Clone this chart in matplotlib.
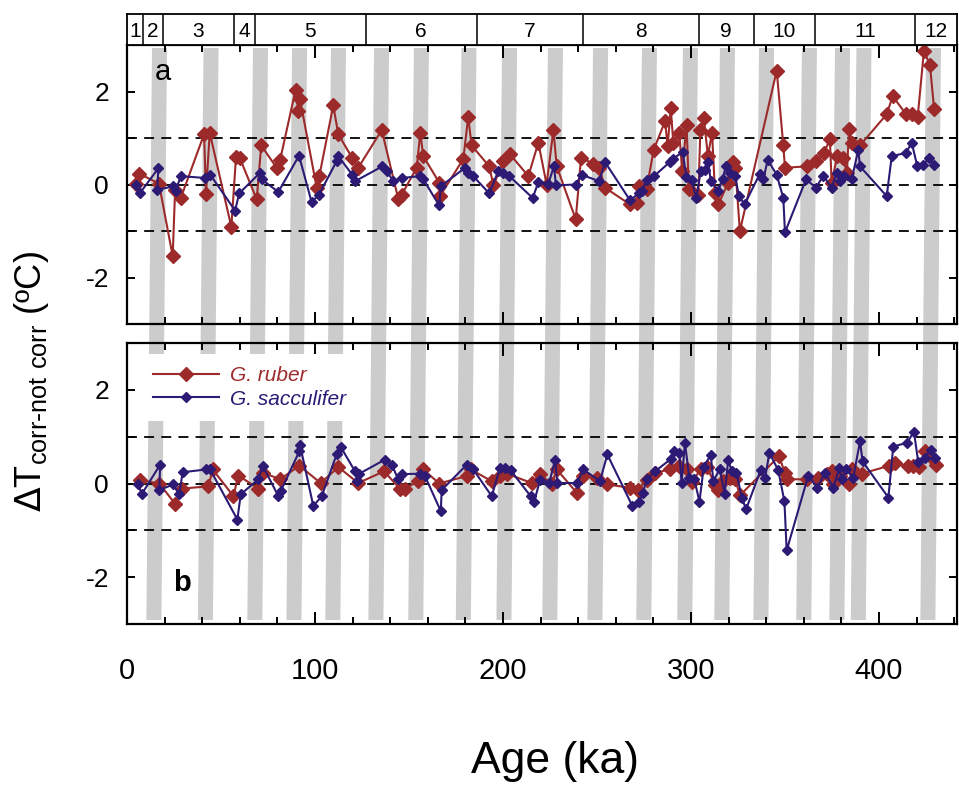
import matplotlib
matplotlib.use('Agg')
import matplotlib.pyplot as plt
from matplotlib.patches import Polygon

RED = '#9c2a2a'
BLUE = '#2c1a74'
BAR_GRAY = '#cccccc'

# glacial/interglacial shading bars (centre age at top of figure, ka)
bar_centers = [17.3, 44.7, 71.0, 91.8, 112.5, 135.4, 156.6, 181.9, 203.5, 227.9,
               251.9, 277.9, 299.7, 319.4, 340.2, 363.0, 380.6, 392.0, 429.0]

# marine isotope stage boundaries (ka) and labels
mis_bounds = [8.5, 19, 57, 68, 127, 186, 242.5, 304, 333.5, 366, 419]
mis_labels = ['1', '2', '3', '4', '5', '6', '7', '8', '9', '10', '11', '12']

# panel a: G. ruber
ruber_a_age = [5.0, 6.6, 17.0, 24.3, 25.6, 28.6, 41.0, 42.0, 44.0, 55.5, 58.0, 60.0,
               69.0, 71.4, 79.6, 81.4, 89.7, 91.1, 92.0, 100.9, 102.3, 109.7, 112.4,
               119.8, 123.0, 135.5, 144.3, 146.1, 154.1, 156.0, 157.6, 166.1, 166.5,
               178.9, 181.5, 183.3, 192.7, 194.9, 200.2, 203.7, 213.5, 218.8, 223.2,
               226.8, 228.6, 238.7, 241.5, 248.0, 251.2, 254.3, 267.6, 271.1, 272.5,
               276.4, 280.2, 286.2, 287.6, 289.2, 290.6, 293.8, 295.3, 297.7, 298.8,
               303.9, 305.0, 306.8, 309.0, 311.2, 312.8, 314.5, 319.8, 322.5, 323.6,
               326.0, 345.6, 349.1, 350.0, 361.5, 366.5, 370.7, 373.9, 374.8, 377.8,
               381.0, 382.8, 384.2, 385.5, 389.9, 404.1, 407.3, 414.4, 417.4, 420.6,
               423.9, 427.1, 429.3]
ruber_a_val = [0.02, 0.23, 0.02, -1.54, -0.11, -0.29, 1.08, -0.20, 1.11, -0.91, 0.60, 0.57,
               -0.32, 0.84, 0.36, 0.52, 2.04, 1.58, 1.84, -0.07, 0.18, 1.70, 1.08,
               0.57, 0.36, 1.17, -0.31, -0.22, 0.36, 1.11, 0.61, 0.04, -0.25,
               0.55, 1.45, 0.84, 0.39, -0.02, 0.50, 0.65, 0.18, 0.90, 0.00,
               1.17, 0.39, -0.75, 0.57, 0.45, 0.36, -0.07, -0.43, -0.39, -0.04,
               -0.09, 0.75, 1.36, 0.82, 1.65, 0.90, 1.10, 0.29, 1.28, -0.09,
               -0.22, 1.17, 1.43, 0.62, 1.11, -0.18, -0.43, 0.04, 0.49, 0.36,
               -1.00, 2.45, 0.84, 0.36, 0.39, 0.50, 0.68, 0.97, 0.04, 0.61,
               0.57, 0.25, 1.20, 0.90, 0.84, 1.51, 1.90, 1.51, 1.51, 1.46,
               2.87, 2.58, 1.63]

# panel a: G. sacculifer
sacc_a_age = [5.0, 6.8, 16.7, 16.0, 24.3, 25.8, 28.6, 41.6, 44.3, 57.5, 59.7, 70.7,
              71.6, 80.5, 91.5, 98.2, 102.1, 111.5, 112.4, 119.8, 121.3, 135.8, 138.1,
              141.7, 146.1, 155.9, 157.6, 166.1, 166.9, 179.8, 181.5, 183.9, 192.7,
              197.5, 200.2, 203.4, 215.8, 218.8, 224.1, 227.1, 228.2, 238.7, 241.8,
              251.2, 254.3, 267.6, 272.5, 274.0, 276.4, 280.3, 288.7, 290.4, 295.6,
              297.5, 300.4, 302.8, 305.2, 307.4, 309.2, 310.5, 314.5, 316.8, 318.6,
              321.0, 323.4, 325.5, 328.5, 336.5, 338.5, 340.8, 345.6, 349.1, 350.0,
              361.2, 366.5, 370.4, 374.8, 377.5, 379.3, 381.4, 385.5, 389.0, 389.9,
              404.1, 406.8, 414.4, 417.4, 420.4, 423.6, 426.8, 429.3]
sacc_a_val = [-0.02, -0.19, 0.35, -0.12, -0.04, -0.14, 0.18, 0.14, 0.21, -0.56, -0.19, 0.25,
              0.11, -0.16, 0.62, -0.38, -0.22, 0.50, 0.61, 0.21, 0.07, 0.39, 0.29,
              0.07, 0.14, 0.18, 0.11, -0.45, -0.04, 0.36, 0.25, 0.19, -0.19,
              0.29, 0.25, 0.18, -0.29, 0.05, 0.02, 0.39, -0.02, 0.00, 0.21,
              0.07, 0.48, -0.34, -0.18, -0.14, 0.09, 0.18, 0.48, 0.55, 0.70,
              0.16, 0.09, -0.30, 0.29, 0.32, 0.49, 0.07, -0.14, 0.12, 0.39,
              0.25, 0.18, -0.24, -0.43, 0.22, 0.11, 0.53, 0.21, -0.29, -1.03,
              0.11, -0.07, 0.19, -0.07, 0.25, 0.07, 0.19, 0.11, 0.75, 0.39,
              -0.25, 0.61, 0.68, 0.90, 0.39, 0.43, 0.57, 0.43]

# panel b: G. ruber
ruber_b_age = [7.0, 17.2, 25.5, 29.1, 43.3, 45.6, 56.6, 59.2, 69.9, 72.5, 81.4, 91.7,
               103.0, 112.4, 123.0, 136.7, 145.2, 147.9, 154.9, 157.3, 166.1, 180.7,
               182.8, 194.0, 198.4, 202.0, 215.3, 219.7, 225.9, 228.6, 239.5, 242.4,
               249.8, 255.2, 267.6, 272.0, 276.4, 280.9, 288.8, 293.5, 298.0, 300.4,
               305.2, 308.4, 313.0, 314.5, 317.2, 320.7, 323.4, 326.1, 346.8, 350.0,
               350.9, 361.5, 367.7, 372.2, 374.8, 375.7, 379.3, 384.2, 385.5, 390.8,
               405.5, 408.5, 415.6, 418.3, 421.4, 424.5, 428.0, 430.3]
ruber_b_val = [0.07, 0.00, -0.43, -0.11, -0.06, 0.30, -0.27, 0.17, -0.11, 0.23, 0.09, 0.38,
               0.01, 0.35, 0.01, 0.26, -0.11, -0.11, 0.05, 0.31, 0.00, 0.16,
               0.30, 0.05, 0.16, 0.21, 0.01, 0.21, -0.02, 0.30, -0.21, 0.16,
               0.12, -0.02, -0.09, -0.13, 0.07, 0.23, 0.30, 0.37, 0.30, 0.03,
               0.30, 0.35, -0.03, -0.13, 0.05, 0.12, 0.09, -0.25, 0.58, 0.23,
               0.09, 0.09, 0.12, 0.21, 0.26, 0.00, 0.16, 0.00, 0.30, 0.21,
               0.38, 0.44, 0.37, 0.37, 0.35, 0.69, 0.55, 0.40]

# panel b: G. sacculifer
sacc_b_age = [6.0, 7.8, 17.6, 17.2, 24.6, 27.8, 29.6, 42.0, 44.1, 58.7, 60.5, 69.9,
              72.2, 80.5, 81.8, 91.7, 92.0, 99.1, 103.6, 111.5, 113.7, 121.3, 122.5,
              123.6, 137.2, 140.8, 144.3, 146.5, 155.9, 158.5, 166.9, 167.4, 180.7,
              184.2, 194.0, 198.4, 201.1, 204.1, 214.7, 216.5, 219.7, 224.6, 227.7,
              228.9, 239.5, 242.7, 251.6, 255.5, 268.8, 272.5, 274.3, 276.6, 280.9,
              289.5, 291.0, 293.8, 295.0, 296.8, 299.1, 301.8, 304.5, 306.8, 310.5,
              311.9, 315.3, 317.9, 319.8, 321.8, 324.2, 327.0, 329.3, 337.1, 339.4,
              341.7, 346.4, 349.7, 350.9, 362.4, 367.2, 371.3, 375.7, 378.9, 380.2,
              382.4, 386.3, 389.9, 391.3, 405.0, 407.6, 415.0, 418.6, 420.9, 424.5,
              427.5, 430.0]
sacc_b_val = [0.00, -0.23, 0.40, -0.14, -0.02, -0.23, 0.24, 0.30, 0.31, -0.77, -0.23, 0.09,
              0.38, -0.27, -0.16, 0.69, 0.83, -0.48, -0.27, 0.62, 0.78, 0.26, 0.05,
              0.21, 0.51, 0.40, 0.09, 0.20, 0.21, 0.16, -0.59, -0.14, 0.40,
              0.30, -0.27, 0.33, 0.33, 0.28, -0.27, -0.40, 0.07, 0.01, 0.51,
              0.01, 0.01, 0.30, 0.05, 0.62, -0.48, -0.40, -0.20, 0.09, 0.26,
              0.53, 0.69, 0.65, 0.01, 0.87, 0.12, 0.09, -0.39, 0.36, 0.61,
              0.05, 0.31, -0.22, 0.50, 0.26, 0.23, -0.30, -0.55, 0.29, 0.11,
              0.66, 0.28, -0.38, -1.43, 0.17, -0.09, 0.23, -0.09, 0.33, 0.09,
              0.31, 0.12, 0.90, 0.47, -0.30, 0.79, 0.87, 1.11, 0.45, 0.55,
              0.71, 0.55]

XMAX = 441.5
W, H = 959, 785
LEFT = 127 / W
WIDTH = (957 - 127) / W


def fig_box(top_px, bottom_px):
    return [LEFT, 1 - bottom_px / H, WIDTH, (bottom_px - top_px) / H]


def style_panel(ax, show_xlabels):
    ax.set_facecolor('none')
    ax.set_xlim(0, XMAX)
    ax.set_ylim(-3, 3)
    for s in ax.spines.values():
        s.set_linewidth(1.6)
    for y in (-1, 0, 1):
        ax.axhline(y, color='black', lw=1.3, ls=(0, (5.5, 4)), zorder=1)
    ax.set_xticks([0, 100, 200, 300, 400])
    ax.set_xticks(range(20, 441, 20), minor=True)
    ax.set_yticks([-2, -1, 0, 1, 2])
    ax.set_yticklabels(['-2', '', '0', '', '2'], fontsize=19, family='Liberation Sans')
    ax.tick_params(which='both', direction='in', top=True, right=True, width=1.4)
    ax.tick_params(axis='x', which='major', length=9)
    ax.tick_params(axis='x', which='minor', length=5)
    ax.tick_params(axis='y', length=6, pad=13)
    if show_xlabels:
        ax.tick_params(axis='x', labelsize=21, pad=24)
        for lab in ax.get_xticklabels():
            lab.set_family('Liberation Sans')
    else:
        ax.tick_params(axis='x', labelbottom=False)


def plot_series(ax, ruber_age, ruber_val, sacc_age, sacc_val):
    ax.plot(ruber_age, ruber_val, color=RED, lw=1.5, marker='D', ms=7.5,
            mec=RED, mfc=RED, zorder=3, label='G. ruber')
    ax.plot(sacc_age, sacc_val, color=BLUE, lw=1.5, marker='D', ms=5.0,
            mec=BLUE, mfc=BLUE, zorder=4, label='G. sacculifer')


def main():
    fig = plt.figure(figsize=(W / 100, H / 100), dpi=100)

    # shading bars spanning both panels
    ax_bars = fig.add_axes(fig_box(48, 620), zorder=0)
    ax_bars.set_xlim(0, XMAX)
    ax_bars.set_ylim(0, 1)
    ax_bars.axis('off')
    half = 4.0
    shift = 3.0
    for c in bar_centers:
        poly = Polygon([(c - half, 1), (c + half, 1), (c - shift + half, 0), (c - shift - half, 0)],
                       closed=True, facecolor=BAR_GRAY, edgecolor='none')
        ax_bars.add_patch(poly)

    ax_a = fig.add_axes(fig_box(45, 324), zorder=1)
    ax_b = fig.add_axes(fig_box(343, 624), zorder=1)
    style_panel(ax_a, False)
    style_panel(ax_b, True)

    plot_series(ax_a, ruber_a_age, ruber_a_val, sacc_a_age, sacc_a_val)
    plot_series(ax_b, ruber_b_age, ruber_b_val, sacc_b_age, sacc_b_val)

    ax_a.text(0.034, 0.905, 'a', transform=ax_a.transAxes, fontsize=21,
              family='Liberation Sans', ha='left', va='center')
    ax_b.text(0.055, 0.145, 'b', transform=ax_b.transAxes, fontsize=21,
              family='Liberation Sans', fontweight='bold', ha='left', va='center')

    leg = ax_b.legend(loc='upper left', bbox_to_anchor=(0.0157, 0.961), borderaxespad=0,
                      prop={'family': 'Liberation Sans', 'style': 'italic', 'size': 15},
                      handlelength=3.2, handletextpad=0.5, labelspacing=0.2,
                      borderpad=0.6, numpoints=1, frameon=True, facecolor='white',
                      edgecolor='none', framealpha=1, fancybox=False)
    for txt, col in zip(leg.get_texts(), [RED, BLUE]):
        txt.set_color(col)

    # MIS stage strip
    ax_s = fig.add_axes(fig_box(14, 45), zorder=2)
    ax_s.set_xlim(0, XMAX)
    ax_s.set_ylim(0, 1)
    ax_s.set_xticks([])
    ax_s.set_yticks([])
    for s in ax_s.spines.values():
        s.set_linewidth(1.3)
    edges = [0] + mis_bounds + [XMAX]
    for b in mis_bounds:
        ax_s.axvline(b, color='black', lw=1.1)
    for i, lab in enumerate(mis_labels):
        ax_s.text((edges[i] + edges[i + 1]) / 2, 0.45, lab, ha='center', va='center',
                  fontsize=15, family='Liberation Sans')

    fig.text(555 / W, 1 - 762 / H, 'Age (ka)', ha='center', va='center', fontsize=32,
             family='Liberation Sans')
    fig.text(32 / W, 1 - 382 / H, r'$\Delta$T$_{\mathregular{corr\text{-}not\ corr}}$ (ºC)',
             rotation=90, ha='center', va='center', fontsize=26, family='Liberation Sans')

    fig.savefig('out.png', dpi=100)


if __name__ == "__main__":
    main()
